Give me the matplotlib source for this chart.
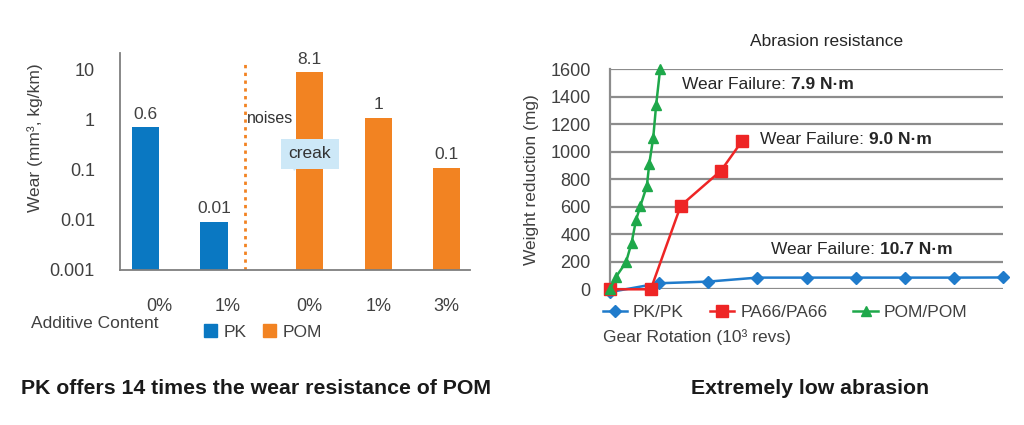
import matplotlib

matplotlib.use("Agg")
import matplotlib.pyplot as plt
import numpy as np
from matplotlib.patches import Patch, Polygon

plt.rcParams["font.family"] = ["Liberation Sans", "DejaVu Sans"]

# left panel: wear per additive content
materials = ["PK", "PK", "POM", "POM", "POM"]
additive = ["0%", "1%", "0%", "1%", "3%"]
wear = [0.72, 0.0093, 9.0, 1.12, 0.11]
wear_labels = ["0.6", "0.01", "8.1", "1", "0.1"]
wear_ticks = [0.001, 0.01, 0.1, 1, 10]
wear_tick_labels = ["0.001", "0.01", "0.1", "1", "10"]

# right panel: weight reduction vs gear rotation
pk_x = [0, 1, 2, 3, 4, 5, 6, 7, 8]
pk_y = [-20, 44, 56, 85, 85, 85, 85, 85, 86]
pa66_x = [0, 0.83, 1.44, 2.26, 2.69]
pa66_y = [0, 0, 608, 863, 1079]
pom_x = [0, 0.115, 0.325, 0.44, 0.53, 0.62, 0.75, 0.8, 0.88, 0.94, 1.02]
pom_y = [0, 87, 196, 339, 504, 608, 751, 914, 1103, 1343, 1600]
failures = ["7.9 N·m", "9.0 N·m", "10.7 N·m"]

BLUE = "#0A78C2"
ORANGE = "#F28322"
TXT = "#404040"
GRID = "#8C8C8C"
FS = 12.5

fig = plt.figure(figsize=(10.24, 4.25), dpi=100)
W, H = 1024, 425


def px_axes(l, r, top, bottom):
    return fig.add_axes([l / W, (H - bottom) / H, (r - l) / W, (bottom - top) / H])


# ---------------- left: bar chart ----------------
ax = px_axes(120, 470, 53, 270)
w = 0.4
colors = {"PK": BLUE, "POM": ORANGE}
idx = np.arange(len(wear))
offs = np.array([-w / 2 if m == "PK" else w / 2 for m in materials])
bars = ax.bar(idx + offs, wear, w, color=[colors[m] for m in materials], zorder=2)
for b, lab in zip(bars, wear_labels):
    ax.annotate(lab, (b.get_x() + b.get_width() / 2, b.get_height()),
                xytext=(0, 4), textcoords="offset points",
                ha="center", va="bottom", fontsize=FS, color=TXT)

ax.set_yscale("log")
ax.set_ylim(0.001, 10 ** 1.34)
ax.set_xlim(-0.57, 4.54)
ax.set_yticks(wear_ticks)
ax.set_yticklabels(wear_tick_labels)
ax.minorticks_off()
label_x = [i if m == "PK" else i + w / 2 for i, m in zip(idx, materials)]
ax.set_xticks(label_x)
ax.set_xticklabels(additive)
ax.tick_params(axis="both", length=0, labelsize=13, labelcolor=TXT)
ax.tick_params(axis="y", pad=18)
ax.tick_params(axis="x", pad=20)
for s in ["top", "right"]:
    ax.spines[s].set_visible(False)
for s in ["left", "bottom"]:
    ax.spines[s].set_color("#7F7F7F")
    ax.spines[s].set_linewidth(1.3)

ax.plot([1.255, 1.255], [0.001, 13.8], ls=(0, (1.2, 1.6)), color=ORANGE, lw=2, zorder=1)
ax.text(1.285, 1.05, "noises", fontsize=11.5, color="#333333", ha="left", va="center")
ax.text(2.2, 0.21, "creak", fontsize=12.5, color="#333333", ha="center", va="center",
        zorder=4, bbox=dict(boxstyle="square,pad=0.45", fc="#CDE8F7", ec="none"))
fig.patches.append(Polygon([[292 / W, (H - 166) / H], [300 / W, (H - 166) / H],
                            [294 / W, (H - 171) / H]], closed=True, fc="#CDE8F7",
                           ec="none", transform=fig.transFigure, zorder=5))

fig.text(35 / W, (H - 138) / H, "Wear (mm³, kg/km)", rotation=90, fontsize=FS,
         color=TXT, ha="center", va="center")
fig.text(31 / W, (H - 323) / H, "Additive Content", fontsize=FS, color=TXT,
         ha="left", va="center")
fig.legend(handles=[Patch(color=BLUE, label="PK"), Patch(color=ORANGE, label="POM")],
           loc="center", bbox_to_anchor=(263 / W, (H - 332) / H), ncol=2,
           frameon=False, fontsize=FS, handlelength=0.75, handleheight=0.75,
           handletextpad=0.4, columnspacing=0.9, labelcolor=TXT)

# ---------------- right: line chart ----------------
ax2 = px_axes(610, 1003, 69.3, 289.3)
ax2.plot(pk_x, pk_y, color="#1F7BCB", lw=1.8, marker="D", ms=6, clip_on=False,
         zorder=3, label="PK/PK")
ax2.plot(pa66_x, pa66_y, color="#EE2525", lw=1.8, marker="s", ms=8.5, clip_on=False,
         zorder=4, label="PA66/PA66")
ax2.plot(pom_x, pom_y, color="#1EA84A", lw=1.8, marker="^", ms=7, clip_on=False,
         zorder=5, label="POM/POM")
ax2.set_xlim(0, 8)
ax2.set_ylim(0, 1600)
ax2.set_yticks(np.arange(0, 1601, 200))
ax2.set_xticks([])
ax2.yaxis.grid(True, color=GRID, lw=1.6)
ax2.set_axisbelow(True)
ax2.tick_params(axis="y", length=0, labelsize=13, labelcolor=TXT, pad=14)
for s in ["top", "right", "bottom"]:
    ax2.spines[s].set_visible(False)
ax2.spines["left"].set_color(GRID)
ax2.spines["left"].set_linewidth(1.6)
ax2.set_ylabel("Weight reduction (mg)", fontsize=FS, color=TXT, labelpad=8)

for (x, y), val in zip([(1.466, 1493), (3.05, 1091), (3.27, 291)], failures):
    t = ax2.text(x, y, "Wear Failure: ", fontsize=FS, color="#262626",
                 ha="left", va="center")
    ax2.annotate(val, xy=(1, 0.5), xycoords=t, ha="left", va="center",
                 fontsize=FS, fontweight="bold", color="#262626")

fig.text(827 / W, (H - 41) / H, "Abrasion resistance", fontsize=FS, color="#262626",
         ha="center", va="center")
h, l = ax2.get_legend_handles_labels()
fig.legend(h, l, loc="center", bbox_to_anchor=(785 / W, (H - 312) / H), ncol=3,
           frameon=False, fontsize=FS, handlelength=1.4, handletextpad=0.35,
           columnspacing=1.5, labelcolor=TXT)
fig.text(603 / W, (H - 337) / H, "Gear Rotation (10³ revs)", fontsize=FS,
         color=TXT, ha="left", va="center")

# captions
fig.text(256 / W, (H - 389) / H, "PK offers 14 times the wear resistance of POM",
         fontsize=15.3, fontweight="bold", color="#1A1A1A", ha="center", va="center")
fig.text(810 / W, (H - 389) / H, "Extremely low abrasion", fontsize=15.3,
         fontweight="bold", color="#1A1A1A", ha="center", va="center")

fig.savefig("out.png", dpi=100, facecolor="white")
